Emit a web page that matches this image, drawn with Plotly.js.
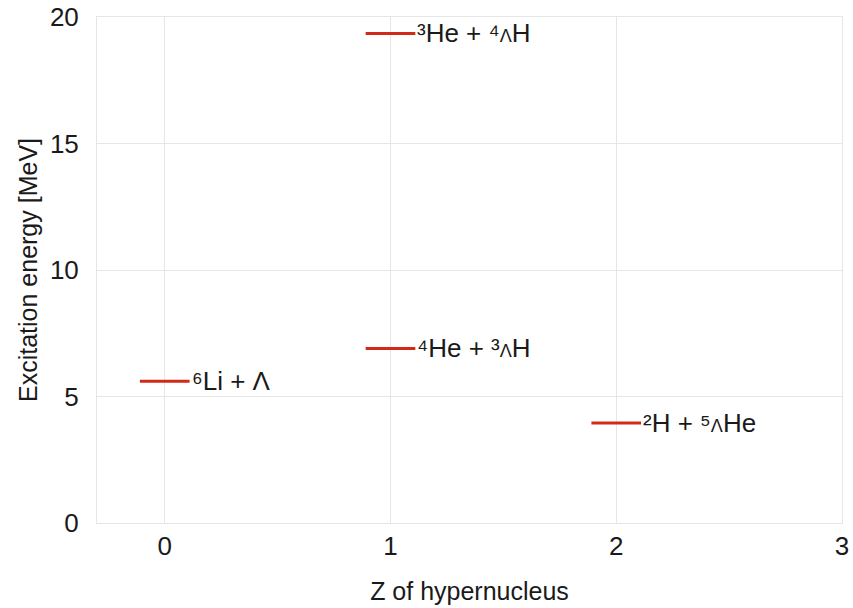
<!DOCTYPE html>
<html>
<head>
<meta charset="utf-8">
<script src="https://cdn.plot.ly/plotly-3.0.1.min.js"></script>
<style>body{margin:0;padding:0;background:#fff}#chart{width:853px;height:608px}</style>
</head>
<body>
<div id="chart"></div>
<script>
// Data
const zValues = [0, 1, 1, 2];
const energies = [5.6, 6.9, 19.35, 3.95];
const labels = [
  "⁶Li + Λ",
  "⁴He + ³<span style=\"font-size:18px\">Λ</span>H",
  "³He + ⁴<span style=\"font-size:18px\">Λ</span>H",
  "²H + ⁵<span style=\"font-size:18px\">Λ</span>He"
];
const halfWidth = 0.11;
const xTicks = [0, 1, 2, 3];
const yTicks = [0, 5, 10, 15, 20];

const FONT = 'Arial, "Liberation Sans", sans-serif';

const traces = zValues.map((z, i) => ({
  type: 'scatter',
  mode: 'lines',
  x: [z - halfWidth, z + halfWidth],
  y: [energies[i], energies[i]],
  line: {color: '#d12a17', width: 3},
  hoverinfo: 'skip',
  showlegend: false
}));

const annotations = zValues.map((z, i) => ({
  x: z + halfWidth,
  y: energies[i],
  xref: 'x', yref: 'y',
  text: labels[i],
  showarrow: false,
  xanchor: 'left',
  yanchor: 'middle',
  xshift: 0,
  font: {family: FONT, size: 26, color: '#1a1a1a'}
}));

const layout = {
  width: 853, height: 608,
  margin: {l: 97, r: 11, t: 17, b: 85},
  paper_bgcolor: '#fff', plot_bgcolor: '#fff',
  font: {family: FONT, size: 26, color: '#1a1a1a'},
  xaxis: {
    range: [-0.3, 3],
    tickvals: xTicks,
    ticktext: xTicks.map(String),
    showgrid: true, gridcolor: '#e6e6e6', gridwidth: 1,
    zeroline: false,
    showline: true, linecolor: '#e6e6e6', mirror: true,
    ticks: '', ticklen: 0,
    ticklabelstandoff: 0,
    tickfont: {family: FONT, size: 26},
    title: {text: 'Z of hypernucleus', font: {family: FONT, size: 25}, standoff: 22}
  },
  yaxis: {
    range: [0, 20],
    tickvals: yTicks,
    ticktext: yTicks.map(String),
    showgrid: true, gridcolor: '#e6e6e6', gridwidth: 1,
    zeroline: false,
    showline: true, linecolor: '#e6e6e6', mirror: true,
    ticks: '',
    ticklabelstandoff: 12,
    tickfont: {family: FONT, size: 26},
    title: {text: 'Excitation energy [MeV]', font: {family: FONT, size: 25}, standoff: 5}
  },
  annotations: annotations
};

Plotly.newPlot('chart', traces, layout, {displayModeBar: false, staticPlot: true});
</script>
</body>
</html>
